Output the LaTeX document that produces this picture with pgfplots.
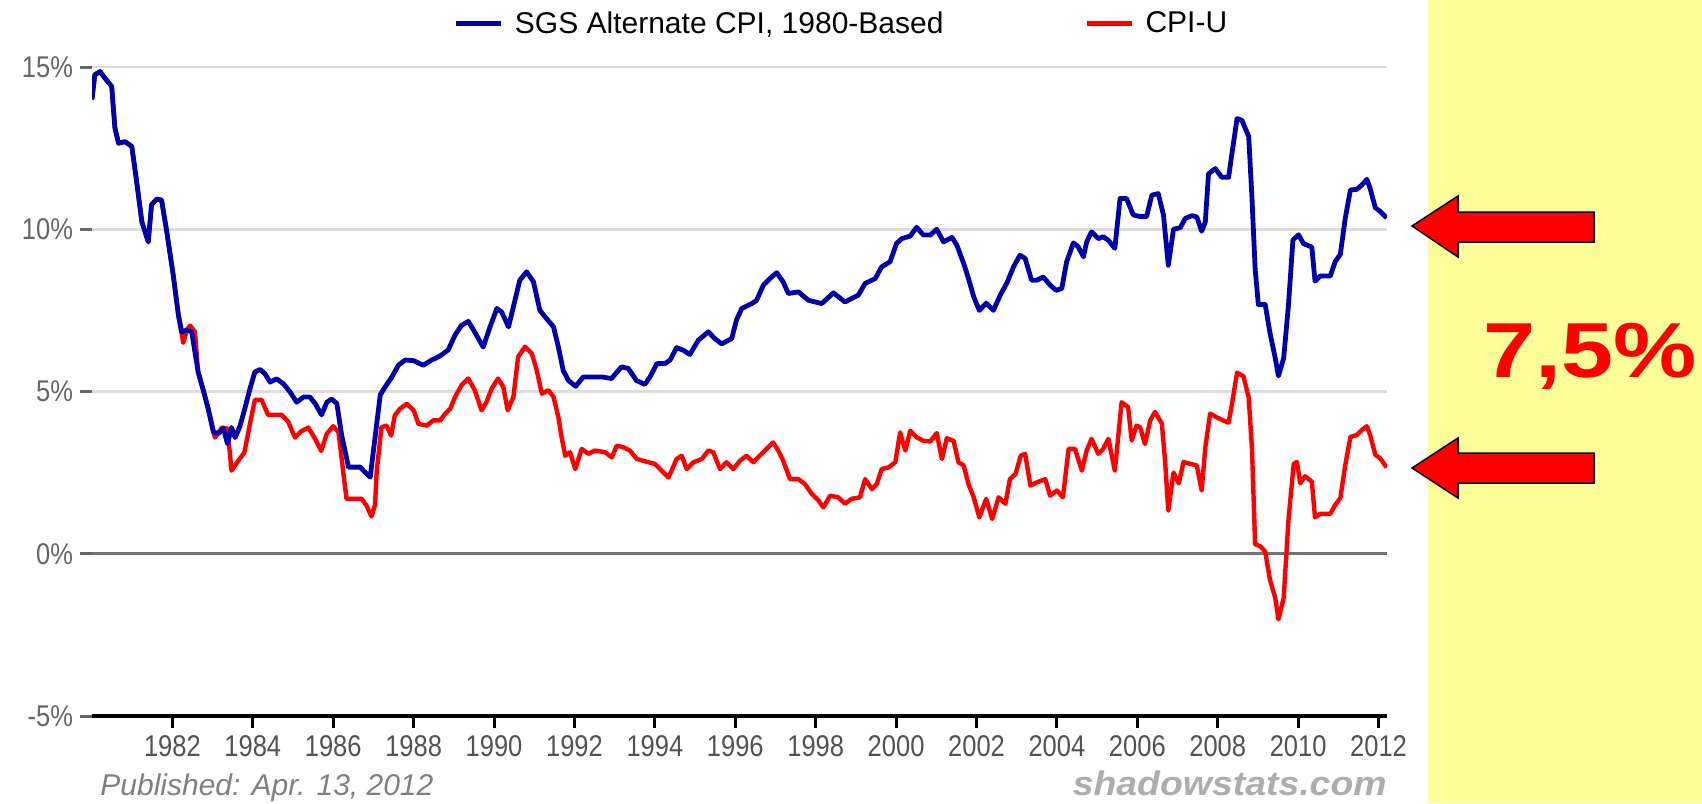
\documentclass[border=0pt]{standalone}
\usepackage{fontspec}
\setmainfont{Liberation Sans}
\newfontfamily\condfont[FakeStretch=0.85]{Liberation Sans}
\usepackage{graphicx}
\usepackage{pgfplots}
\usepackage{pgfplotstable}
\pgfplotsset{compat=1.18}

\definecolor{sgsblue}{RGB}{0,0,170}
\definecolor{cpired}{RGB}{255,0,0}
\definecolor{panel}{RGB}{255,255,153}
\definecolor{gridgray}{RGB}{221,221,221}
\definecolor{labgray}{RGB}{102,102,102}

% SGS Alternate CPI, 1980-based (annual change, %)
\pgfplotstableread{
year val
1980.00 14.00
1980.07 14.76
1980.20 14.86
1980.32 14.66
1980.49 14.40
1980.57 13.12
1980.66 12.65
1980.82 12.70
1980.99 12.55
1981.11 11.47
1981.24 10.23
1981.40 9.61
1981.48 10.75
1981.61 10.93
1981.73 10.90
1981.86 9.92
1982.02 8.59
1982.15 7.35
1982.23 6.84
1982.36 6.89
1982.48 6.84
1982.64 5.60
1982.77 5.03
1982.89 4.47
1983.02 3.75
1983.14 3.70
1983.27 3.86
1983.37 3.39
1983.47 3.89
1983.56 3.58
1983.68 3.93
1983.80 4.47
1983.93 5.09
1984.05 5.60
1984.18 5.68
1984.30 5.55
1984.43 5.29
1984.59 5.39
1984.76 5.24
1984.93 4.98
1985.09 4.67
1985.26 4.83
1985.42 4.83
1985.55 4.63
1985.71 4.28
1985.84 4.67
1985.96 4.77
1986.09 4.63
1986.21 3.65
1986.38 2.67
1986.50 2.67
1986.67 2.67
1986.79 2.51
1986.92 2.36
1987.00 3.18
1987.17 4.90
1987.29 5.14
1987.46 5.45
1987.62 5.81
1987.79 5.97
1988.00 5.95
1988.24 5.81
1988.45 5.97
1988.65 6.09
1988.86 6.28
1989.03 6.74
1989.19 7.04
1989.36 7.16
1989.52 6.83
1989.73 6.37
1989.90 6.99
1990.07 7.56
1990.19 7.45
1990.36 6.99
1990.52 7.81
1990.64 8.43
1990.81 8.69
1990.98 8.38
1991.14 7.50
1991.31 7.24
1991.48 6.99
1991.60 6.37
1991.72 5.65
1991.85 5.34
1992.03 5.16
1992.22 5.45
1992.43 5.45
1992.68 5.45
1992.92 5.40
1993.17 5.76
1993.34 5.71
1993.54 5.34
1993.75 5.22
1993.88 5.45
1994.05 5.86
1994.25 5.86
1994.38 5.97
1994.54 6.35
1994.71 6.27
1994.87 6.14
1995.08 6.58
1995.33 6.84
1995.49 6.63
1995.66 6.47
1995.91 6.63
1996.03 7.20
1996.16 7.56
1996.41 7.71
1996.53 7.81
1996.70 8.28
1996.86 8.48
1997.03 8.66
1997.19 8.38
1997.32 8.02
1997.57 8.07
1997.82 7.81
1998.15 7.71
1998.44 8.04
1998.73 7.76
1999.06 7.97
1999.23 8.33
1999.48 8.48
1999.64 8.84
1999.85 9.00
2000.01 9.56
2000.14 9.71
2000.35 9.79
2000.51 10.06
2000.68 9.82
2000.85 9.82
2001.01 10.00
2001.18 9.61
2001.39 9.75
2001.51 9.51
2001.68 8.95
2001.80 8.48
2001.93 7.92
2002.07 7.50
2002.24 7.72
2002.42 7.50
2002.59 7.97
2002.75 8.33
2002.92 8.84
2003.08 9.20
2003.21 9.10
2003.37 8.43
2003.50 8.43
2003.66 8.53
2003.83 8.28
2003.98 8.12
2004.12 8.17
2004.24 8.99
2004.41 9.58
2004.53 9.46
2004.66 9.15
2004.74 9.61
2004.86 9.92
2005.03 9.71
2005.15 9.77
2005.28 9.66
2005.44 9.41
2005.57 10.95
2005.73 10.95
2005.90 10.44
2006.07 10.39
2006.23 10.39
2006.36 11.05
2006.52 11.10
2006.65 10.44
2006.77 8.89
2006.90 10.00
2007.07 10.05
2007.19 10.33
2007.36 10.42
2007.48 10.38
2007.60 9.94
2007.69 10.22
2007.77 11.71
2007.94 11.87
2008.10 11.60
2008.27 11.60
2008.35 12.31
2008.48 13.41
2008.60 13.36
2008.77 12.86
2008.85 10.99
2008.93 8.78
2009.01 7.68
2009.18 7.68
2009.30 6.80
2009.43 6.03
2009.51 5.48
2009.64 6.03
2009.76 7.68
2009.87 9.67
2010.01 9.83
2010.13 9.56
2010.34 9.45
2010.42 8.40
2010.55 8.56
2010.80 8.56
2010.92 9.00
2011.05 9.23
2011.17 10.33
2011.30 11.21
2011.46 11.23
2011.59 11.37
2011.71 11.54
2011.79 11.26
2011.92 10.66
2012.04 10.55
2012.20 10.35
}\sgs

% CPI-U (annual change, %)
\pgfplotstableread{
year val
1980.00 14.00
1980.07 14.76
1980.20 14.86
1980.32 14.66
1980.49 14.40
1980.57 13.12
1980.66 12.65
1980.82 12.70
1980.99 12.55
1981.11 11.47
1981.24 10.23
1981.40 9.61
1981.48 10.75
1981.61 10.93
1981.73 10.90
1981.86 9.92
1982.02 8.59
1982.15 7.35
1982.27 6.50
1982.36 6.90
1982.44 7.03
1982.56 6.84
1982.64 5.60
1982.77 5.03
1982.89 4.47
1983.02 3.75
1983.06 3.58
1983.23 3.89
1983.37 3.86
1983.47 2.56
1983.64 2.87
1983.79 3.12
1983.93 4.01
1984.05 4.74
1984.22 4.74
1984.38 4.28
1984.55 4.28
1984.72 4.28
1984.88 4.07
1985.05 3.58
1985.21 3.78
1985.38 3.89
1985.55 3.54
1985.70 3.17
1985.84 3.70
1986.00 3.93
1986.13 3.75
1986.25 2.51
1986.33 1.69
1986.50 1.69
1986.71 1.69
1986.83 1.48
1986.95 1.15
1987.04 1.50
1987.08 2.52
1987.20 3.90
1987.33 3.95
1987.44 3.64
1987.53 4.26
1987.66 4.47
1987.83 4.62
1988.00 4.42
1988.12 4.00
1988.33 3.95
1988.49 4.11
1988.66 4.11
1988.78 4.31
1988.91 4.47
1989.03 4.83
1989.19 5.19
1989.36 5.40
1989.52 5.04
1989.69 4.42
1989.81 4.67
1989.94 5.09
1990.10 5.40
1990.23 5.14
1990.34 4.42
1990.48 4.83
1990.60 6.07
1990.77 6.38
1990.94 6.17
1991.06 5.66
1991.19 4.93
1991.35 5.04
1991.48 4.83
1991.60 4.21
1991.68 3.59
1991.77 3.02
1991.89 3.13
1992.02 2.61
1992.18 3.23
1992.35 3.08
1992.51 3.18
1992.76 3.13
1992.93 2.97
1993.05 3.33
1993.22 3.28
1993.38 3.18
1993.55 2.92
1993.75 2.85
1994.00 2.77
1994.17 2.56
1994.34 2.35
1994.54 2.92
1994.67 3.02
1994.79 2.61
1994.96 2.82
1995.17 2.92
1995.33 3.18
1995.45 3.13
1995.62 2.61
1995.78 2.82
1995.95 2.61
1996.12 2.87
1996.28 3.02
1996.45 2.82
1996.61 3.02
1996.78 3.23
1996.94 3.43
1997.07 3.18
1997.19 2.87
1997.36 2.30
1997.57 2.30
1997.73 2.15
1997.90 1.85
1998.07 1.64
1998.19 1.43
1998.36 1.79
1998.56 1.74
1998.73 1.54
1998.89 1.69
1999.10 1.74
1999.23 2.30
1999.40 1.99
1999.52 2.15
1999.64 2.61
1999.81 2.66
1999.98 2.82
2000.10 3.74
2000.23 3.18
2000.35 3.79
2000.51 3.59
2000.68 3.48
2000.85 3.46
2001.01 3.72
2001.14 2.92
2001.26 3.56
2001.43 3.48
2001.55 2.82
2001.68 2.72
2001.80 2.15
2001.93 1.74
2002.07 1.12
2002.24 1.69
2002.39 1.07
2002.55 1.74
2002.72 1.54
2002.83 2.30
2002.97 2.46
2003.10 3.02
2003.21 3.08
2003.34 2.10
2003.50 2.20
2003.71 2.30
2003.83 1.79
2004.00 1.95
2004.15 1.74
2004.29 3.23
2004.45 3.23
2004.62 2.56
2004.74 3.18
2004.86 3.54
2005.03 3.08
2005.15 3.23
2005.28 3.54
2005.44 2.56
2005.61 4.67
2005.77 4.52
2005.86 3.49
2005.98 3.95
2006.07 3.90
2006.19 3.38
2006.32 4.11
2006.44 4.37
2006.61 4.01
2006.69 2.87
2006.77 1.33
2006.90 2.50
2007.03 2.17
2007.15 2.83
2007.32 2.77
2007.48 2.72
2007.60 1.95
2007.69 3.27
2007.81 4.32
2007.98 4.20
2008.15 4.10
2008.27 4.04
2008.35 4.59
2008.48 5.58
2008.64 5.47
2008.77 4.81
2008.85 3.27
2008.93 0.29
2009.06 0.23
2009.18 0.07
2009.30 -0.81
2009.43 -1.36
2009.51 -2.02
2009.64 -1.36
2009.76 1.06
2009.89 2.77
2009.97 2.83
2010.05 2.17
2010.17 2.39
2010.34 2.22
2010.42 1.12
2010.55 1.23
2010.80 1.23
2010.92 1.50
2011.05 1.72
2011.17 2.72
2011.30 3.60
2011.46 3.66
2011.59 3.82
2011.71 3.93
2011.79 3.66
2011.92 3.05
2012.04 2.94
2012.20 2.66
}\cpiu

\begin{document}
\begin{tikzpicture}
% whole picture is 1702 x 803 px, 1 px = 0.5pt
\useasboundingbox (0pt,0pt) rectangle (851pt,-401.5pt);
\begin{scope}[x=0.5pt,y=-0.5pt]
  \fill[panel] (1428,0) rectangle (1702,803);
\end{scope}

\begin{axis}[
  at={(46pt,-358pt)}, anchor=south west,
  scale only axis, width=647.5pt, height=324.5pt,
  xmin=1980, xmax=2012.21, ymin=-5, ymax=15,
  axis x line=bottom, axis y line=left,
  x axis line style={-, black, line width=2pt},
  y axis line style={draw=none},
  xtick={1982,1984,...,2012},
  xticklabels={1982,1984,1986,1988,1990,1992,1994,1996,1998,2000,2002,2004,2006,2008,2010,2012},
  ytick={-5,0,5,10,15},
  yticklabels={-5\%,0\%,5\%,10\%,15\%},
  tick align=outside,
  major tick length=6pt,
  x tick style={black, line width=1.5pt},
  y tick style={labgray, line width=1.5pt},
  ymajorgrids,
  grid style={gridgray, line width=1.3pt},
  ticklabel style={font=\condfont\fontsize{15pt}{18pt}\selectfont},
  xticklabel style={text=black!68},
  yticklabel style={text=labgray},
  legend columns=2,
  legend style={at={(axis description cs:0.2795,1.0663)}, anchor=west,
    draw=none, fill=none, inner sep=0pt, outer sep=0pt,
    font=\fontsize{15pt}{18pt}\selectfont,
    nodes={inner sep=0pt},
    /tikz/every odd column/.append style={column sep=5.5pt},
    /tikz/every even column/.append style={column sep=70.5pt}},
  legend image code/.code={\draw[#1] (0pt,0pt) -- (22.5pt,0pt);},
]
  \draw[black!55, line width=1.6pt] (axis cs:1980,0) -- (axis cs:2012.21,0);

  \addplot[cpired, line width=2.2pt, line join=round, forget plot] table {\cpiu};
  \addplot[sgsblue, line width=2.4pt, line join=round, forget plot] table {\sgs};

  \addlegendimage{sgsblue, line width=2.5pt}
  \addlegendentry{SGS Alternate CPI, 1980-Based}
  \addlegendimage{cpired, line width=2.5pt}
  \addlegendentry{CPI-U}
\end{axis}

\begin{scope}[x=0.5pt,y=-0.5pt]
  \filldraw[fill=cpired, draw=black, line width=0.75pt]
    (1412,226) -- (1458,196) -- (1458,212) -- (1594,212) -- (1594,242)
    -- (1458,242) -- (1458,257) -- cycle;
  \filldraw[fill=cpired, draw=black, line width=0.75pt]
    (1412,468) -- (1458,438) -- (1458,453) -- (1594,453) -- (1594,483)
    -- (1458,483) -- (1458,498) -- cycle;
  \node[anchor=base, inner sep=0pt, text=cpired,
    font=\bfseries\fontsize{39pt}{44pt}\selectfont] at (1590,377)
    {\scalebox{1.2}[1]{7,5\%}};
  \node[anchor=base west, inner sep=0pt, text=black!50,
    font=\itshape\fontsize{15pt}{18pt}\selectfont] at (100,795)
    {Published: Apr. 13, 2012};
  \node[anchor=base east, inner sep=0pt, text=black!32,
    font=\bfseries\itshape\fontsize{17pt}{20pt}\selectfont] at (1387,795)
    {\scalebox{1.1}[1]{shadowstats.com}};
\end{scope}
\end{tikzpicture}
\end{document}
